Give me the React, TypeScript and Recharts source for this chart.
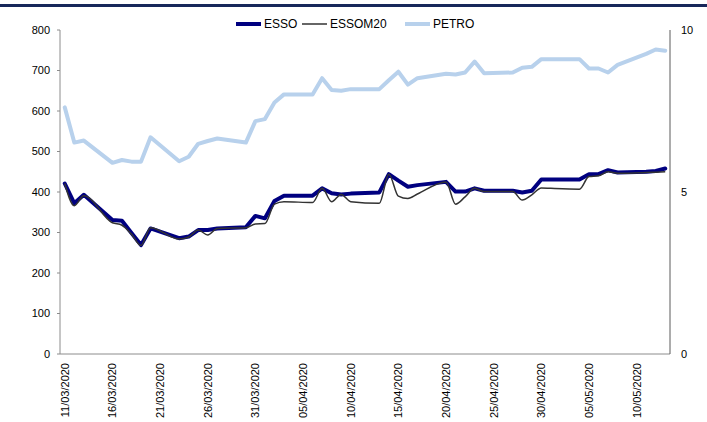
import React from 'react';
import { LineChart, Line, XAxis, YAxis, Legend } from 'recharts';

const dates = [
  '11/03/2020', '12/03/2020', '13/03/2020',
  '16/03/2020', '17/03/2020', '18/03/2020', '19/03/2020', '20/03/2020',
  '23/03/2020', '24/03/2020', '25/03/2020', '26/03/2020', '27/03/2020',
  '30/03/2020', '31/03/2020', '01/04/2020', '02/04/2020', '03/04/2020',
  '06/04/2020', '07/04/2020', '08/04/2020', '09/04/2020', '10/04/2020',
  '13/04/2020', '14/04/2020', '15/04/2020', '16/04/2020', '17/04/2020',
  '20/04/2020', '21/04/2020', '22/04/2020', '23/04/2020', '24/04/2020',
  '27/04/2020', '28/04/2020', '29/04/2020', '30/04/2020', '01/05/2020',
  '04/05/2020', '05/05/2020', '06/05/2020', '07/05/2020', '08/05/2020',
  '11/05/2020', '12/05/2020', '13/05/2020',
];

const esso = [
  421, 372, 393,
  331, 329, 299, 269, 310,
  286, 290, 306, 306, 310,
  313, 341, 335, 378, 391,
  391, 409, 397, 394, 396,
  399, 444, 428, 413, 417,
  425, 401, 401, 409, 403,
  403, 399, 403, 431, 431,
  431, 444, 444, 454, 448,
  450, 452, 458,
];

const essoM20 = [
  421, 366, 391,
  324, 318, 296, 268, 312,
  284, 289, 306, 294, 310,
  312, 321, 322, 370, 376,
  374, 409, 376, 394, 376,
  372, 444, 390, 384, 395,
  425, 370, 388, 409, 401,
  401, 380, 393, 410, 409,
  407, 438, 440, 450, 446,
  448, 449, 450,
];

const petro = [
  609, 522, 527,
  472, 479, 475, 475, 535,
  476, 487, 519, 526, 532,
  522, 575, 580, 621, 641,
  641, 681, 652, 650, 654,
  654, 676, 697, 665, 681,
  692, 690, 695, 722, 693,
  695, 707, 709, 728, 728,
  728, 705, 705, 695, 714,
  741, 752, 749,
];

const xTickLabels = [
  '11/03/2020', '16/03/2020', '21/03/2020', '26/03/2020', '31/03/2020',
  '05/04/2020', '10/04/2020', '15/04/2020', '20/04/2020', '25/04/2020',
  '30/04/2020', '05/05/2020', '10/05/2020',
];
const leftTicks = [0, 100, 200, 300, 400, 500, 600, 700, 800];
const rightTicks = [0, 5, 10];

const FONT = '"Liberation Sans", Arial, sans-serif';
const START = Date.UTC(2020, 2, 11);
const dayIndex = (s: string) => {
  const [dd, mm, yy] = s.split('/').map(Number);
  return Math.round((Date.UTC(yy, mm - 1, dd) - START) / 86400000);
};

const data = dates.map((s, i) => ({
  d: dayIndex(s),
  esso: esso[i],
  essoM20: essoM20[i],
  petro: petro[i],
}));
const xTicks = xTickLabels.map(dayIndex);
const labelByDay = new Map(xTickLabels.map((s) => [dayIndex(s), s]));

const XTick = (props: any) => {
  const { x, y, payload } = props;
  return (
    <text
      transform={`translate(${x},${y}) rotate(-90)`}
      textAnchor="end"
      dy="0.36em"
      fontSize={11}
      fontFamily={FONT}
      fill="#000"
    >
      {labelByDay.get(payload.value)}
    </text>
  );
};

const legendSpec: Record<string, { label: string; color: string; w: number; width: number }> = {
  esso: { label: 'ESSO', color: '#000080', w: 4, width: 66 },
  essoM20: { label: 'ESSOM20', color: '#333333', w: 1.5, width: 103 },
  petro: { label: 'PETRO', color: '#b8d1ec', w: 4, width: 72 },
};

const renderLegend = (props: any) => {
  const { payload } = props;
  return (
    <div style={{ display: 'flex', paddingLeft: 236, fontFamily: FONT, fontSize: 12, color: '#000', lineHeight: '14px' }}>
      {payload.map((p: any) => {
        const spec = legendSpec[p.dataKey];
        return (
          <div key={p.dataKey} style={{ display: 'flex', alignItems: 'center', width: spec.width }}>
            <svg width={25} height={14} style={{ display: 'block' }}>
              <line x1={0} y1={7} x2={25} y2={7} stroke={spec.color} strokeWidth={spec.w} />
            </svg>
            <span style={{ marginLeft: 3 }}>{spec.label}</span>
          </div>
        );
      })}
    </div>
  );
};

export default function App() {
  return (
    <div style={{ position: 'absolute', left: 0, top: 0, width: 707, height: 422, background: '#fff' }}>
      <div style={{ position: 'absolute', left: 0, top: 4, width: 707, height: 3, background: '#17275a' }} />
      <LineChart
        width={707}
        height={422}
        data={data}
        margin={{ top: 30, right: 0, bottom: 0, left: 0 }}
      >
        <XAxis
          dataKey="d"
          type="number"
          domain={[-0.5, 63.5]}
          ticks={xTicks}
          interval={0}
          height={68}
          tickSize={0}
          tickMargin={9}
          tickLine={false}
          axisLine={{ stroke: '#8c8c8c' }}
          tick={<XTick />}
        />
        <YAxis
          yAxisId="left"
          width={60}
          domain={[0, 800]}
          ticks={leftTicks}
          interval={0}
          tickSize={3}
          tickMargin={7}
          axisLine={{ stroke: '#8c8c8c' }}
          tickLine={{ stroke: '#8c8c8c' }}
          tick={{ fontSize: 11, fontFamily: FONT, fill: '#000' }}
        />
        <YAxis
          yAxisId="right"
          orientation="right"
          width={37}
          type="number"
          domain={[0, 10]}
          allowDataOverflow
          ticks={rightTicks}
          interval={0}
          tickSize={3}
          tickMargin={8}
          tickLine={false}
          axisLine={{ stroke: '#5a5a5a' }}
          tick={{ fontSize: 11, fontFamily: FONT, fill: '#000' }}
        />
        <Legend
          layout="horizontal"
          verticalAlign="middle"
          content={renderLegend}
          wrapperStyle={{ top: 17, left: 0, width: 707, height: 14 }}
        />
        <Line
          yAxisId="left"
          dataKey="esso"
          name="ESSO"
          type="linear"
          stroke="#000080"
          strokeWidth={4}
          strokeLinejoin="round"
          strokeLinecap="round"
          dot={false}
          activeDot={false}
          isAnimationActive={false}
        />
        <Line
          yAxisId="left"
          dataKey="essoM20"
          name="ESSOM20"
          type="monotone"
          stroke="#333333"
          strokeWidth={1.5}
          strokeLinejoin="round"
          dot={false}
          activeDot={false}
          isAnimationActive={false}
        />
        <Line
          yAxisId="left"
          dataKey="petro"
          name="PETRO"
          type="linear"
          stroke="#b8d1ec"
          strokeWidth={4}
          strokeLinejoin="round"
          strokeLinecap="round"
          dot={false}
          activeDot={false}
          isAnimationActive={false}
        />
      </LineChart>
    </div>
  );
}
